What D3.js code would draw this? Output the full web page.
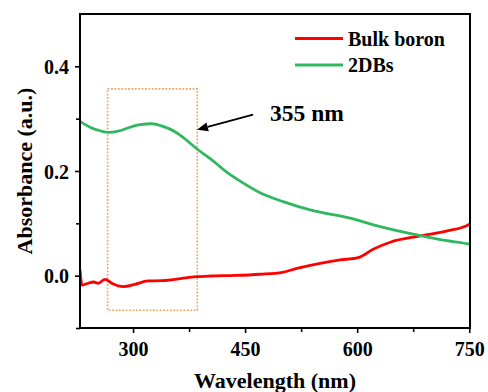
<!DOCTYPE html>
<html>
<head>
<meta charset="utf-8">
<script src="https://cdn.jsdelivr.net/npm/d3@7"></script>
<style>
  html, body { margin: 0; padding: 0; background: #fff; }
  svg { display: block; }
  text { font-family: "Liberation Serif", "Times New Roman", serif; font-weight: bold; fill: #000; }
</style>
</head>
<body>
<svg id="chart" width="488" height="392"></svg>
<script>
// UV-vis absorbance spectra (wavelength in nm, absorbance in a.u.)
const bulkWavelength = [229, 231.7, 240, 246.8, 253.5, 262.5, 271.5, 287, 302.7, 320, 338.4, 356.2, 385.3, 403, 436.6, 470, 500, 519.2, 550.4, 577.2, 601.3, 621.4, 644.2, 684.4, 720.5, 748.7, 751];
const bulkAbsorbance = [0.011, -0.0178, -0.0145, -0.0121, -0.0145, -0.0069, -0.0145, -0.0211, -0.0165, -0.0101, -0.0096, -0.0069, -0.0019, -0.0006, 0.0004, 0.0027, 0.0065, 0.0140, 0.0237, 0.0300, 0.0344, 0.0505, 0.0639, 0.0760, 0.0856, 0.0970, 0.0990];

const dbsWavelength = [229, 242.4, 255.8, 266.9, 279.9, 296, 309.4, 325, 340.2, 356.2, 371, 385.3, 405.4, 423.2, 447.7, 472.8, 500.9, 537, 590.6, 630.8, 684.4, 717.9, 748.7, 751];
const dbsAbsorbance = [0.2947, 0.2836, 0.2769, 0.2737, 0.276, 0.2836, 0.2884, 0.2903, 0.2852, 0.275, 0.2597, 0.2425, 0.2214, 0.2004, 0.1768, 0.1564, 0.1416, 0.1257, 0.1099, 0.0938, 0.0766, 0.0674, 0.0607, 0.0600];

const seriesNames = ["Bulk boron", "2DBs"];
const seriesColors = ["#ff0000", "#30b860"];

const xMajorTicks = [300, 450, 600, 750];
const xMinorTicks = [375, 525, 675];
const yMajorTicks = [0.0, 0.2, 0.4];
const yMinorTicks = [-0.1, 0.1, 0.3];

// Highlighted region around the 2DBs absorption shoulder
const boxWavelength = [266, 386];
const boxAbsorbance = [-0.066, 0.357];
const peakLabel = "355 nm";
const arrowFrom = [460.7, 0.3076];
const arrowTo = [385.6, 0.2789];

const svg = d3.select("#chart");
const plotLeft = 80, plotRight = 470, plotTop = 14, plotBottom = 328;

const x = d3.scaleLinear().domain([229, 751]).range([plotLeft, plotRight]);
const y = d3.scaleLinear().domain([-0.1, 0.5]).range([plotBottom, plotTop]);

svg.append("defs").append("clipPath").attr("id", "plot")
  .append("rect").attr("x", plotLeft).attr("y", plotTop).attr("width", plotRight - plotLeft).attr("height", plotBottom - plotTop);

// Axes: outward ticks, bold serif labels
svg.append("g").attr("transform", `translate(0,${plotBottom})`)
  .call(d3.axisBottom(x).tickValues(xMajorTicks).tickSize(5).tickPadding(9).tickFormat(d3.format("d")));
svg.append("g").attr("transform", `translate(0,${plotBottom})`)
  .call(d3.axisBottom(x).tickValues(xMinorTicks).tickSize(4).tickFormat(""));
const yAxis = svg.append("g").attr("transform", `translate(${plotLeft},0)`)
  .call(d3.axisLeft(y).tickValues(yMajorTicks).tickSize(5).tickPadding(6).tickFormat(d3.format(".1f")));
svg.append("g").attr("transform", `translate(${plotLeft},0)`)
  .call(d3.axisLeft(y).tickValues(yMinorTicks).tickSize(4).tickFormat(""));

svg.selectAll(".domain").remove();
svg.selectAll(".tick line").attr("stroke", "#000").attr("stroke-width", 1.6);
svg.selectAll(".tick text").style("font-size", "20px").style("font-family", "'Liberation Serif', serif").style("font-weight", "bold").attr("fill", "#000");
yAxis.selectAll(".tick text").attr("dy", "0.36em");

// Dotted highlight box
svg.append("rect")
  .attr("x", x(boxWavelength[0])).attr("y", y(boxAbsorbance[1]))
  .attr("width", x(boxWavelength[1]) - x(boxWavelength[0]))
  .attr("height", y(boxAbsorbance[0]) - y(boxAbsorbance[1]))
  .attr("fill", "none").attr("stroke", "#f5a25c").attr("stroke-width", 1.6)
  .attr("stroke-dasharray", "1.8,1.6");

// Spectra
const line = d3.line().x(d => x(d[0])).y(d => y(d[1])).curve(d3.curveMonotoneX);
const series = [
  d3.zip(bulkWavelength, bulkAbsorbance),
  d3.zip(dbsWavelength, dbsAbsorbance)
];
svg.append("g").attr("clip-path", "url(#plot)")
  .selectAll("path").data(series).join("path")
  .attr("d", line).attr("fill", "none")
  .attr("stroke", (d, i) => seriesColors[i]).attr("stroke-width", 2.8)
  .attr("stroke-linejoin", "round");

// Frame
svg.append("rect").attr("x", plotLeft).attr("y", plotTop).attr("width", plotRight - plotLeft).attr("height", plotBottom - plotTop)
  .attr("fill", "none").attr("stroke", "#000").attr("stroke-width", 2);

// Arrow pointing at the shoulder
const ax0 = x(arrowFrom[0]), ay0 = y(arrowFrom[1]), ax1 = x(arrowTo[0]), ay1 = y(arrowTo[1]);
const ang = Math.atan2(ay1 - ay0, ax1 - ax0);
const headLen = 11, headW = 4.5;
const bx = ax1 - headLen * Math.cos(ang), by = ay1 - headLen * Math.sin(ang);
svg.append("line").attr("x1", ax0).attr("y1", ay0).attr("x2", bx).attr("y2", by)
  .attr("stroke", "#000").attr("stroke-width", 1.8);
svg.append("path")
  .attr("d", `M${ax1},${ay1} L${bx - headW * Math.sin(ang)},${by + headW * Math.cos(ang)} L${bx + headW * Math.sin(ang)},${by - headW * Math.cos(ang)} Z`)
  .attr("fill", "#000");
svg.append("text").attr("x", 270).attr("y", 121).style("font-size", "23.5px").text(peakLabel);

// Legend
const legend = svg.append("g");
seriesNames.forEach((name, i) => {
  const ly = 38.5 + i * 26.5;
  legend.append("line").attr("x1", 295).attr("x2", 343).attr("y1", ly).attr("y2", ly)
    .attr("stroke", seriesColors[i]).attr("stroke-width", 2.8);
  legend.append("text").attr("x", 348).attr("y", ly + 7).style("font-size", "20px").text(name);
});

// Axis titles
svg.append("text").attr("x", (plotLeft + plotRight) / 2).attr("y", 388).attr("text-anchor", "middle")
  .style("font-size", "22px").text("Wavelength (nm)");
svg.append("text").attr("transform", `translate(32,${(plotTop + plotBottom) / 2}) rotate(-90)`)
  .attr("text-anchor", "middle").style("font-size", "22px").text("Absorbance (a.u.)");
</script>
</body>
</html>
